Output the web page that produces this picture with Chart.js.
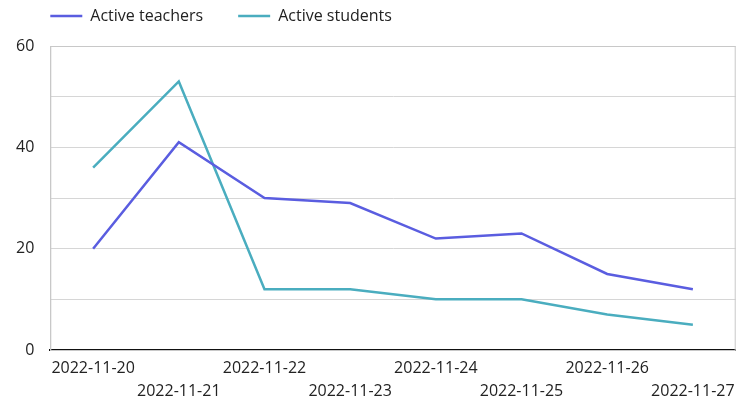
<!DOCTYPE html>
<html>
<head>
<meta charset="utf-8">
<script src="https://cdn.jsdelivr.net/npm/chart.js@4"></script>
<style>
  body { margin: 0; background: #fff; }
</style>
</head>
<body>
<canvas id="lineChart" width="742" height="400"></canvas>
<script>
// data
const dates = ['2022-11-20', '2022-11-21', '2022-11-22', '2022-11-23', '2022-11-24', '2022-11-25', '2022-11-26', '2022-11-27'];
const teachers = [20, 41, 30, 29, 22, 23, 15, 12];
const students = [36, 53, 12, 12, 10, 10, 7, 5];
const yTicks = [0, 20, 40, 60];

const FONT = "'Open Sans', sans-serif";
const LEGEND_PAD = 35;

// staggered x labels: every second date goes on the lower row
const xLabels = dates.map((d, i) => i % 2 === 0 ? [d, ''] : ['', d]);

// light box round the plot area
const frame = {
    id: 'frame',
    beforeDatasetsDraw(chart) {
        const {ctx, chartArea: a} = chart;
        ctx.save();
        ctx.strokeStyle = '#c8c8c8';
        ctx.lineWidth = 1;
        ctx.strokeRect(a.left + 0.5, a.top + 0.5, a.right - a.left - 1, a.bottom - a.top);
        ctx.restore();
    }
};

// legend: fixed height, flush with the plot edge, wide gap between items
const legendTweak = {
    id: 'legendTweak',
    beforeInit(chart) {
        const lg = chart.legend;
        const fit = lg.fit.bind(lg);
        lg.fit = function () {
            fit();
            this.height = 46;
        };
    },
    afterLayout(chart) {
        chart.legend.left -= LEGEND_PAD;
        chart.legend.top -= LEGEND_PAD - 8;
    }
};

const ctx = document.getElementById('lineChart').getContext('2d');

const config = {
    type: 'line',
    data: {
        labels: xLabels,
        datasets: [{
            label: 'Active teachers',
            data: teachers,
            borderColor: '#5a5de0',
            backgroundColor: '#5a5de0',
            borderWidth: 2.5,
            pointRadius: 0,
            tension: 0
        }, {
            label: 'Active students',
            data: students,
            borderColor: '#4aadbf',
            backgroundColor: '#4aadbf',
            borderWidth: 2.5,
            pointRadius: 0,
            tension: 0
        }]
    },
    options: {
        responsive: false,
        animation: false,
        layout: {
            padding: {left: 0, right: 1, top: 0, bottom: 0}
        },
        plugins: {
            legend: {
                position: 'top',
                align: 'start',
                fullSize: false,
                labels: {
                    boxWidth: 32,
                    boxHeight: 0,
                    padding: LEGEND_PAD,
                    color: '#222',
                    font: {family: FONT, size: 16}
                }
            },
            tooltip: {enabled: false}
        },
        scales: {
            x: {
                offset: true,
                grid: {display: false, drawTicks: false},
                border: {display: true, color: '#111', width: 2},
                ticks: {
                    autoSkip: false,
                    maxRotation: 0,
                    padding: 7,
                    color: '#222',
                    font: {family: FONT, size: 16, lineHeight: 1.45}
                },
                afterFit(scale) {
                    scale.height = 50;
                }
            },
            y: {
                min: 0,
                max: 60,
                grid: {color: '#d6d6d6', drawTicks: false},
                border: {display: true, color: '#c8c8c8', width: 1},
                ticks: {
                    stepSize: 10,
                    padding: 16,
                    color: '#222',
                    font: {family: FONT, size: 16},
                    callback: v => yTicks.includes(v) ? v : ''
                }
            }
        }
    },
    plugins: [frame, legendTweak]
};

const lineChart = new Chart(ctx, config);
</script>
</body>
</html>
